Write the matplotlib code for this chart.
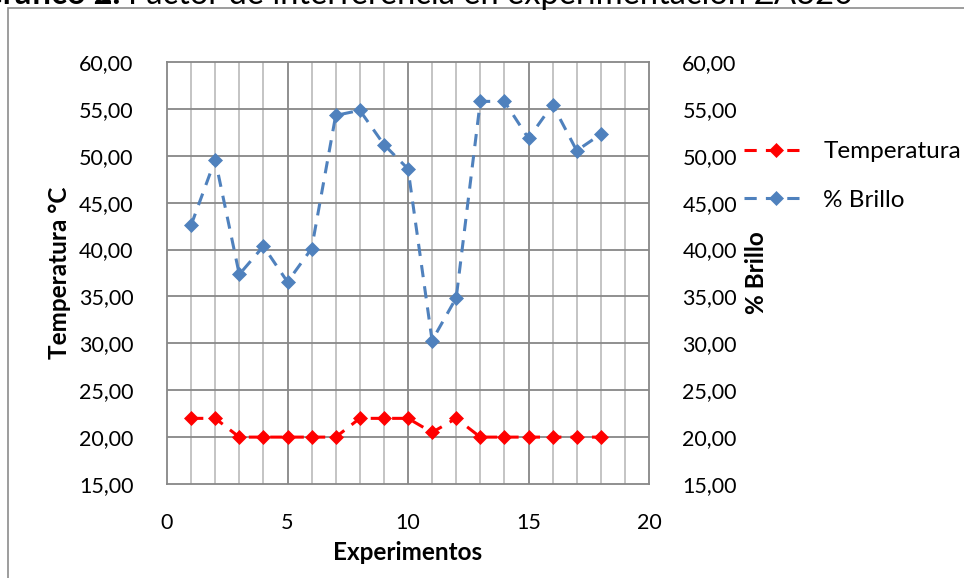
import matplotlib
matplotlib.use("Agg")
import matplotlib.pyplot as plt
from matplotlib.patches import Rectangle

plt.rcParams['font.family'] = ['Lato', 'DejaVu Sans']

experimentos = list(range(1, 19))
temperatura = [22, 22, 20, 20, 20, 20, 20, 22, 22, 22, 20.5, 22, 20, 20, 20, 20, 20, 20]
brillo = [42.6, 49.6, 37.35, 40.35, 36.55, 40.1, 54.3, 54.85, 51.2, 48.6,
          30.3, 34.85, 55.8, 55.8, 51.85, 55.45, 50.55, 52.3]
yticks = [15, 20, 25, 30, 35, 40, 45, 50, 55, 60]
ytick_labels = ["15,00", "20,00", "25,00", "30,00", "35,00", "40,00", "45,00", "50,00", "55,00", "60,00"]
xticks = [0, 5, 10, 15, 20]

W, H = 964, 578
fig = plt.figure(figsize=(W / 100, H / 100), dpi=100)

# outer chart border
fig.patches.append(Rectangle((8 / W, -0.05), 1.2, 1 - 8 / H + 0.05, transform=fig.transFigure,
                             fill=False, edgecolor='#8c8c8c', linewidth=1.2))

left, right, top, bottom = 167, 649, 62, 484
ax = fig.add_axes([left / W, 1 - bottom / H, (right - left) / W, (bottom - top) / H])
ax.set_xlim(0, 20)
ax.set_ylim(15, 60)

major_c = '#878787'
minor_c = '#bfbfbf'
for xv in range(1, 20):
    if xv % 5 != 0:
        ax.axvline(xv, color=minor_c, lw=1.3, zorder=0)
for xv in [5, 10, 15]:
    ax.axvline(xv, color=major_c, lw=1.3, zorder=0)
for yv in yticks[1:-1]:
    ax.axhline(yv, color=major_c, lw=1.3, zorder=0)
for s in ax.spines.values():
    s.set_color(major_c)
    s.set_linewidth(1.3)

ax.set_xticks(xticks)
ax.set_xticklabels([str(v) for v in xticks])
ax.set_yticks(yticks)
ax.set_yticklabels(ytick_labels)
ax.tick_params(axis='both', length=0, labelsize=15.5, colors='black')
ax.tick_params(axis='y', pad=24)
ax.tick_params(axis='x', pad=21)

l1, = ax.plot(experimentos, temperatura, color='#ff0000', lw=2.2, linestyle=(0, (4, 3)),
              marker='D', markersize=7, markeredgewidth=0.5, label='Temperatura', zorder=3)
l2, = ax.plot(experimentos, brillo, color='#4f81bd', lw=2.2, linestyle=(0, (4, 3)),
              marker='D', markersize=7, markeredgewidth=0.5, label='% Brillo', zorder=3)

ax.set_xlabel('Experimentos', fontsize=17.5, fontweight='bold', labelpad=6)
ax.set_ylabel('Temperatura °C', fontsize=17.5, fontweight='bold', labelpad=6)

ax2 = ax.twinx()
ax2.set_ylim(15, 60)
ax2.set_yticks(yticks)
ax2.set_yticklabels(ytick_labels)
ax2.tick_params(axis='y', length=0, labelsize=15.5, pad=24)
for s in ax2.spines.values():
    s.set_visible(False)
ax2.set_ylabel('% Brillo', fontsize=17.5, fontweight='bold', labelpad=6)

fig.legend(handles=[l1, l2], loc='center left', bbox_to_anchor=(744 / W, 1 - 176 / H),
           frameon=False, fontsize=17.5, handlelength=2.6, labelspacing=1.12,
           handletextpad=0.66, borderaxespad=0, borderpad=0)

# title (cut at top edge)
t2 = fig.text(853 / W, 1 - 4.5 / H, 'Factor de interferencia en experimentación ZA320',
              ha='right', va='baseline', fontsize=23.5)
fig.canvas.draw()
bb = t2.get_window_extent()
fig.text(bb.x0 / W, 1 - 4.5 / H, 'Gráfico 2. ', ha='right', va='baseline', fontsize=23.5,
         fontweight='bold')

fig.savefig('out.png', dpi=100)
